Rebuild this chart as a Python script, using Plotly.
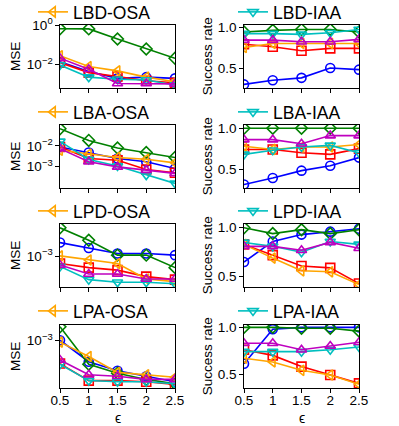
import plotly.graph_objects as go

eps = [0.5, 1, 1.5, 2, 2.5]
eps_ticks = ["0.5", "1", "1.5", "2", "2.5"]
row_names = ["LBD", "LBA", "LPD", "LPA"]

# ---- MSE (left column) ----
LBD_MSE_BLUE = [0.014, 0.0044, 0.0020, 0.0023, 0.0020]
LBD_MSE_GREEN = [0.66, 0.65, 0.20, 0.062, 0.021]
LBD_MSE_RED = [0.0126, 0.0039, 0.0025, 0.0015, 0.0012]
LBD_MSE_OSA = [0.028, 0.0079, 0.0048, 0.0023, 0.00135]
LBD_MSE_IAA = [0.0095, 0.0023, 0.0018, 0.00166, 0.00091]
LBD_MSE_MAGENTA = [0.021, 0.0058, 0.0011, 0.0011, 0.00105]

LBA_MSE_BLUE = [0.0089, 0.0048, 0.00245, 0.0017, 0.00079]
LBA_MSE_GREEN = [0.069, 0.0186, 0.0079, 0.0048, 0.00275]
LBA_MSE_RED = [0.0089, 0.00245, 0.0020, 0.00071, 0.00049]
LBA_MSE_OSA = [0.0062, 0.0040, 0.00275, 0.00224, 0.0015]
LBA_MSE_IAA = [0.0166, 0.0022, 0.00105, 0.00038, 0.00015]
LBA_MSE_MAGENTA = [0.0074, 0.0017, 0.00095, 0.00066, 0.00046]

LPD_MSE_BLUE = [0.0017, 0.00138, 0.00112, 0.00112, 0.00105]
LPD_MSE_GREEN = [0.0030, 0.00186, 0.00105, 0.00105, 0.00065]
LPD_MSE_RED = [0.00076, 0.00065, 0.00059, 0.00046, 0.00041]
LPD_MSE_OSA = [0.00102, 0.00087, 0.00076, 0.00042, 0.00038]
LPD_MSE_IAA = [0.00068, 0.00041, 0.00037, 0.00037, 0.00035]
LPD_MSE_MAGENTA = [0.00072, 0.00051, 0.00051, 0.00042, 0.00042]

LPA_MSE_BLUE = [0.00102, 0.00045, 0.00032, 0.00026, 0.00021]
LPA_MSE_GREEN = [0.0017, 0.00041, 0.00029, 0.00023, 0.000195]
LPA_MSE_RED = [0.00042, 0.00022, 0.00022, 0.00021, 0.00019]
LPA_MSE_OSA = [0.00095, 0.00055, 0.00030, 0.000275, 0.00025]
LPA_MSE_IAA = [0.00041, 0.00022, 0.00021, 0.00021, 0.000195]
LPA_MSE_MAGENTA = [0.00048, 0.000275, 0.00026, 0.00023, 0.00023]

# ---- Success rate (right column) ----
LBD_SR_BLUE = [0.30, 0.35, 0.38, 0.50, 0.48]
LBD_SR_GREEN = [0.94, 0.96, 0.97, 0.97, 0.94]
LBD_SR_RED = [0.79, 0.76, 0.71, 0.74, 0.74]
LBD_SR_OSA = [0.75, 0.80, 0.80, 0.80, 0.80]
LBD_SR_IAA = [0.92, 0.92, 0.91, 0.93, 0.97]
LBD_SR_MAGENTA = [0.84, 0.84, 0.82, 0.82, 0.85]

LBA_SR_BLUE = [0.31, 0.39, 0.48, 0.54, 0.64]
LBA_SR_GREEN = [1.0, 1.0, 1.0, 1.0, 1.0]
LBA_SR_RED = [0.74, 0.74, 0.70, 0.68, 0.75]
LBA_SR_OSA = [0.78, 0.74, 0.77, 0.77, 0.80]
LBA_SR_IAA = [0.68, 0.73, 0.77, 0.79, 0.70]
LBA_SR_MAGENTA = [0.86, 0.86, 0.81, 0.91, 0.91]

LPD_SR_BLUE = [0.65, 0.86, 0.93, 0.96, 0.99]
LPD_SR_GREEN = [1.0, 0.94, 0.98, 0.94, 0.98]
LPD_SR_RED = [0.83, 0.72, 0.61, 0.59, 0.43]
LPD_SR_OSA = [0.83, 0.69, 0.56, 0.55, 0.42]
LPD_SR_IAA = [0.85, 0.81, 0.75, 0.86, 0.83]
LPD_SR_MAGENTA = [0.81, 0.81, 0.77, 0.85, 0.79]

LPA_SR_BLUE = [0.61, 0.98, 1.0, 1.0, 1.0]
LPA_SR_GREEN = [1.0, 1.0, 0.99, 0.99, 0.96]
LPA_SR_RED = [0.76, 0.70, 0.58, 0.49, 0.40]
LPA_SR_OSA = [0.67, 0.63, 0.54, 0.49, 0.39]
LPA_SR_IAA = [0.74, 0.74, 0.74, 0.76, 0.79]
LPA_SR_MAGENTA = [0.83, 0.83, 0.76, 0.80, 0.84]

MSE_DATA = [
    [LBD_MSE_BLUE, LBD_MSE_GREEN, LBD_MSE_RED, LBD_MSE_OSA, LBD_MSE_IAA, LBD_MSE_MAGENTA],
    [LBA_MSE_BLUE, LBA_MSE_GREEN, LBA_MSE_RED, LBA_MSE_OSA, LBA_MSE_IAA, LBA_MSE_MAGENTA],
    [LPD_MSE_BLUE, LPD_MSE_GREEN, LPD_MSE_RED, LPD_MSE_OSA, LPD_MSE_IAA, LPD_MSE_MAGENTA],
    [LPA_MSE_BLUE, LPA_MSE_GREEN, LPA_MSE_RED, LPA_MSE_OSA, LPA_MSE_IAA, LPA_MSE_MAGENTA],
]
SR_DATA = [
    [LBD_SR_BLUE, LBD_SR_GREEN, LBD_SR_RED, LBD_SR_OSA, LBD_SR_IAA, LBD_SR_MAGENTA],
    [LBA_SR_BLUE, LBA_SR_GREEN, LBA_SR_RED, LBA_SR_OSA, LBA_SR_IAA, LBA_SR_MAGENTA],
    [LPD_SR_BLUE, LPD_SR_GREEN, LPD_SR_RED, LPD_SR_OSA, LPD_SR_IAA, LPD_SR_MAGENTA],
    [LPA_SR_BLUE, LPA_SR_GREEN, LPA_SR_RED, LPA_SR_OSA, LPA_SR_IAA, LPA_SR_MAGENTA],
]

COLORS = ["#0000ff", "#008000", "#ff0000", "#ffa500", "#00bfbf", "#bf00bf"]
SYMBOLS = ["circle-open", "diamond-open", "square-open", "triangle-left-open",
           "triangle-down-open", "triangle-up-open"]

MSE_RANGES = [[-3.19, 0.01], [-4.05, -0.98], [-3.51, -2.46], [-3.78, -2.74]]
MSE_TICKS = [[1, 0.01], [0.01, 0.001], [0.001], [0.001]]
MSE_TICKTEXT = [["10<sup>0</sup>", "10<sup>−2</sup>"],
                ["10<sup>−2</sup>", "10<sup>−3</sup>"],
                ["10<sup>−3</sup>"], ["10<sup>−3</sup>"]]
SR_RANGES = [[0.256, 1.025], [0.267, 1.04], [0.395, 1.038], [0.351, 1.025]]

W, H = 399, 426
col_px = [(60, 175), (244, 359)]
row_px = [(25, 88), (125, 188), (224, 287), (325, 388)]
legend_y_px = [12, 112, 211, 311]

FONT = "Liberation Sans, Arial, sans-serif"
fig = go.Figure()
layout = dict(width=W, height=H, margin=dict(l=0, r=0, t=0, b=0, autoexpand=False),
              paper_bgcolor="white", plot_bgcolor="white",
              font=dict(family=FONT, color="black", size=13))
annotations = []

for r in range(4):
    for c in range(2):
        k = 2 * r + c + 1
        xs = "" if k == 1 else str(k)
        data = MSE_DATA[r] if c == 0 else SR_DATA[r]
        show_idx = 3 if c == 0 else 4
        lname = "legend" if k == 1 else "legend" + str(k)
        suffix = "OSA" if c == 0 else "IAA"
        for i, ys in enumerate(data):
            fig.add_trace(go.Scatter(
                x=eps, y=ys, mode="lines+markers",
                xaxis="x" + xs, yaxis="y" + xs,
                line=dict(color=COLORS[i], width=1.6),
                marker=dict(symbol=SYMBOLS[i], size=9, color=COLORS[i],
                            line=dict(width=1.6, color=COLORS[i])),
                name=row_names[r] + "-" + suffix,
                showlegend=(i == show_idx), legend=lname))
        x0, x1 = col_px[c]
        y0, y1 = row_px[r]
        xa = dict(domain=[x0 / W, x1 / W], range=[0.5, 2.5], anchor="y" + xs,
                  showline=True, mirror=True, linecolor="black", linewidth=1.3,
                  ticks="outside", ticklen=3.5, tickcolor="black",
                  tickvals=eps, ticktext=eps_ticks, showgrid=False, zeroline=False,
                  showticklabels=(r == 3), tickfont=dict(size=13.5),
                  ticklabelstandoff=-4)
        ya = dict(domain=[1 - y1 / H, 1 - y0 / H], anchor="x" + xs,
                  showline=True, mirror=True, linecolor="black", linewidth=1.3,
                  ticks="outside", ticklen=3.5, tickcolor="black",
                  showgrid=False, zeroline=False, tickfont=dict(size=13.5))
        if c == 0:
            ya.update(type="log", range=MSE_RANGES[r], tickvals=MSE_TICKS[r],
                      ticktext=MSE_TICKTEXT[r])
        else:
            ya.update(range=SR_RANGES[r], tickvals=[0.5, 1.0], ticktext=["0.5", "1.0"])
        layout["xaxis" + xs] = xa
        layout["yaxis" + xs] = ya
        legx = 33 if c == 0 else 233
        layout[lname] = dict(x=legx / W, xanchor="left", y=1 - legend_y_px[r] / H,
                             yanchor="middle", font=dict(size=17.5, family=FONT),
                             bgcolor="rgba(0,0,0,0)", borderwidth=0)
        # axis titles
        ytitle = "MSE" if c == 0 else "Success rate"
        tx = 15.5 if c == 0 else 207.7
        annotations.append(dict(text=ytitle, x=tx / W, y=1 - (y0 + y1) / 2 / H,
                                xref="paper", yref="paper", showarrow=False,
                                textangle=-90, font=dict(size=13.5),
                                xanchor="center", yanchor="middle"))
        if r == 3:
            annotations.append(dict(text="ϵ", x=(x0 + x1) / 2 / W, y=1 - 418 / H,
                                    xref="paper", yref="paper", showarrow=False,
                                    font=dict(size=14),
                                    xanchor="center", yanchor="middle"))

layout["annotations"] = annotations
fig.update_layout(**layout)
fig.write_html("out.html", config={"displayModeBar": False},
               post_script="document.body.style.margin='0px';document.body.style.overflow='hidden';")
